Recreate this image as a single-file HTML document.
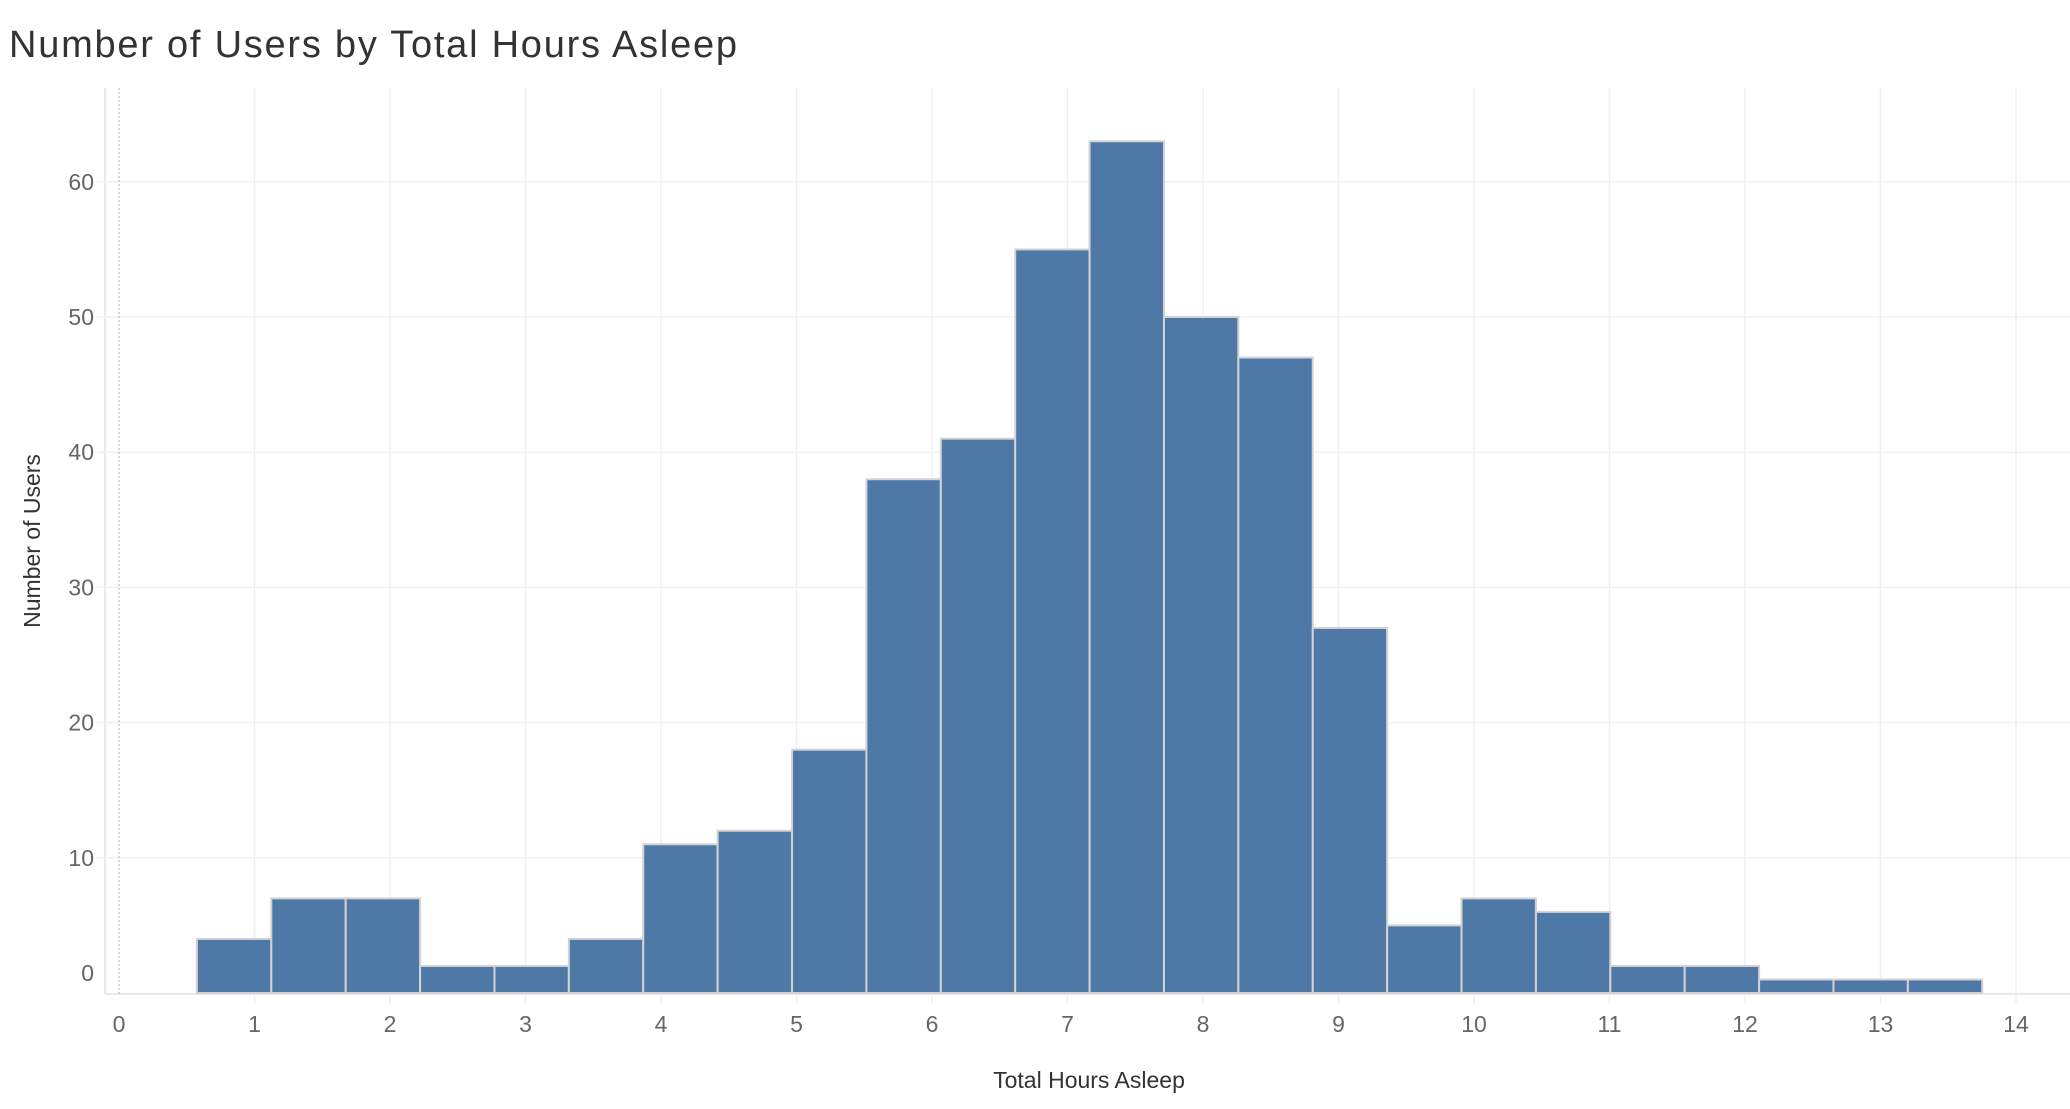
<!DOCTYPE html>
<html><head><meta charset="utf-8"><style>
body{margin:0;background:#fff;}
svg text{font-family:"Liberation Sans",sans-serif;}
</style></head><body>
<svg width="2070" height="1104" viewBox="0 0 2070 1104" xmlns="http://www.w3.org/2000/svg">
<text x="9" y="57" font-size="38" fill="#333" font-weight="300" textLength="728">Number of Users by Total Hours Asleep</text>
<g id="grid"></g><g id="bars"></g><g id="axes"></g>
<text x="1089" y="1088" font-size="23" fill="#333" text-anchor="middle">Total Hours Asleep</text>
<text transform="translate(40,541) rotate(-90)" font-size="23" fill="#333" text-anchor="middle">Number of Users</text>
</svg>
<script>
const counts=[4,7,7,2,2,4,11,12,18,38,41,55,63,50,47,27,5,7,6,2,2,1,1,1];
const binStart=0.575;
const binWidth=0.549;
const xTicks=[0,1,2,3,4,5,6,7,8,9,10,11,12,13,14];
const yTicks=[0,10,20,30,40,50,60];
const NS="http://www.w3.org/2000/svg";
const x=v=>119+v*135.5;
const y=v=>993-v*13.52;
function mk(t,a,p){const e=document.createElementNS(NS,t);for(const k in a)e.setAttribute(k,a[k]);p.appendChild(e);return e;}
const grid=document.getElementById('grid'),bars=document.getElementById('bars'),axes=document.getElementById('axes');
mk('line',{x1:105,y1:88,x2:105,y2:994,stroke:'#eaeaea','stroke-width':2},grid);
mk('line',{x1:105,y1:994,x2:2070,y2:994,stroke:'#eaeaea','stroke-width':2},grid);
yTicks.forEach(t=>{
 if(t>0){const g=mk('line',{x1:97,y1:y(t),x2:2070,y2:y(t),stroke:'#f0f0f0','stroke-width':1.5},grid);
 }
 const l=mk('text',{x:94,y:t===0?y(t)-12:y(t)+8,'font-size':23,fill:'#666','text-anchor':'end'},axes);
 l.textContent=t;
 
 
});
xTicks.forEach(t=>{
 if(t>0){const g=mk('line',{x1:x(t),y1:88,x2:x(t),y2:1004,stroke:'#f0f0f0','stroke-width':1.5},grid);
 }
 const l=mk('text',{x:x(t),y:1032,'font-size':23,fill:'#666','text-anchor':'middle'},axes);
 l.textContent=t;
 
 
});
mk('line',{x1:x(0),y1:88,x2:x(0),y2:994,stroke:'#bbb','stroke-width':1.2,'stroke-dasharray':'2,2'},grid);
counts.forEach((c,i)=>{
 const x0=x(binStart+i*binWidth),x1=x(binStart+(i+1)*binWidth);
 const r=mk('rect',{x:x0,y:y(c),width:x1-x0,height:y(0)-y(c),fill:'#4e79a7',stroke:'#d3d3d3','stroke-width':2},bars);
 
 
});
</script>
</body></html>
